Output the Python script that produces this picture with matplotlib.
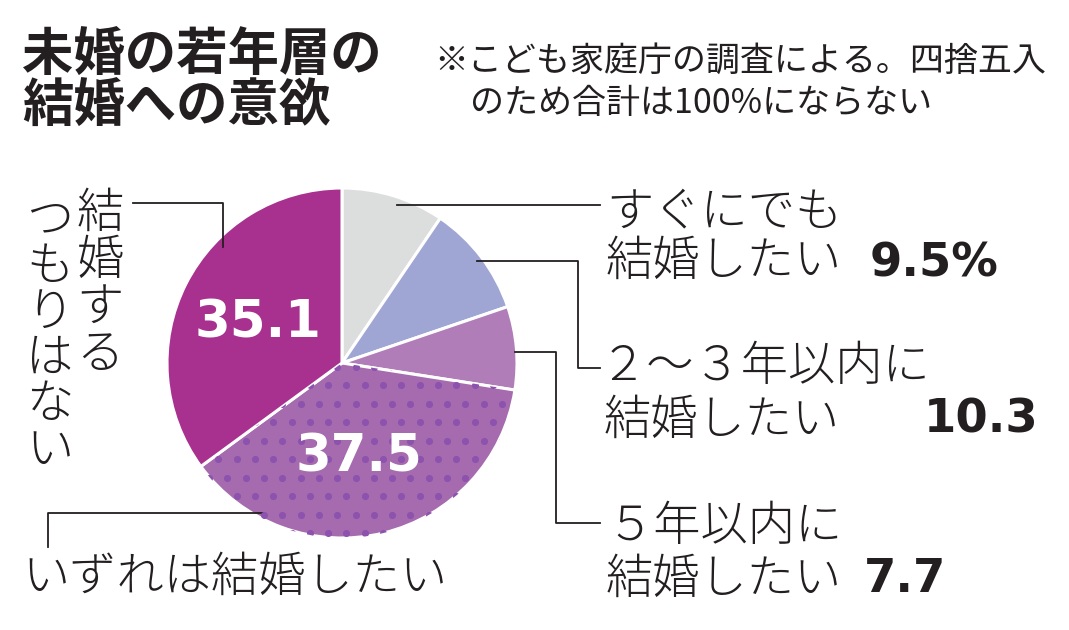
import numpy as np
import matplotlib
matplotlib.use("Agg")
import matplotlib.pyplot as plt

plt.rcParams['font.family'] = ['Noto Sans CJK JP', 'DejaVu Sans']

# survey shares (%), clockwise from 12 o'clock
categories = ['すぐにでも結婚したい', '2～3年以内に結婚したい', '5年以内に結婚したい',
              'いずれは結婚したい', '結婚するつもりはない']
shares = [9.5, 10.3, 7.7, 37.5, 35.1]
value_labels = ['9.5%', '10.3', '7.7', '37.5', '35.1']
colors = ['#dcdedd', '#9fa6d4', '#b07db8', '#a66aae', '#a8308f']

W, H = 1069, 630
fig = plt.figure(figsize=(W / 100, H / 100), dpi=100)
ax = fig.add_axes([0, 0, 1, 1])
ax.set_xlim(0, W)
ax.set_ylim(H, 0)   # pixel-like coords, y down
ax.set_aspect('equal')
ax.axis('off')

cx, cy, r = 342, 363, 175
# y is inverted, so counterclock in data is clockwise on screen
wedges, _ = ax.pie(shares, colors=colors, startangle=-90, counterclock=True,
                   center=(cx, cy), radius=r,
                   wedgeprops=dict(edgecolor='white', linewidth=2.2))
ax.set_xlim(0, W)
ax.set_ylim(H, 0)

# dot texture on the "いずれは" slice
gx, gy = [], []
for i, yy in enumerate(np.arange(459 - 18.5 * 12, cy + r + 20, 18.5)):
    off = 9.15 if i % 2 else 0
    for xx in np.arange(218.3 - 18.3 * 12 + off, cx + r + 20, 18.3):
        gx.append(xx)
        gy.append(yy)
dots = ax.scatter(gx, gy, s=26, color='#8c52ad', linewidths=0, zorder=3)
dots.set_clip_path(wedges[3])

# numbers inside the pie
num_font = dict(family='DejaVu Sans', weight='bold', color='white', fontsize=37)
ax.text(258, 323, value_labels[4], ha='center', va='center', zorder=5, **num_font)
ax.text(359, 458, value_labels[3], ha='center', va='center', zorder=5, **num_font)

ink = '#231f20'
lw = 1.3
# leader lines
ax.plot([397, 600], [205, 205], color=ink, lw=lw)
ax.plot([477, 578, 578, 600], [261, 261, 368, 368], color=ink, lw=lw)
ax.plot([515, 556, 556, 600], [352, 352, 523, 523], color=ink, lw=lw)
ax.plot([133, 223, 223], [203, 203, 247], color=ink, lw=lw)
ax.plot([263, 48, 48], [513, 513, 547], color=ink, lw=lw)

lab = dict(fontsize=34, color=ink, va='center', ha='left', weight='light')
ax.text(606, 212, 'すぐにでも', **lab)
ax.text(606, 261, '結婚したい', **lab)
ax.text(600, 367, '２～３年以内に', **lab)
ax.text(604, 420, '結婚したい', **lab)
ax.text(606, 527, '５年以内に', **lab)
ax.text(606, 579, '結婚したい', **lab)
ax.text(22, 577, 'いずれは結婚したい', **lab)

# vertical label on the left
for i, ch in enumerate('結婚する'):
    ax.text(100, 213 + i * 47, ch, fontsize=34, color=ink, ha='center',
            va='center', weight='light')
for i, ch in enumerate('つもりはない'):
    ax.text(50, 220 + i * 46, ch, fontsize=34, color=ink, ha='center',
            va='center', weight='light')

val = dict(family='DejaVu Sans', weight='bold', fontsize=33.5, color=ink,
           va='center', ha='left')
ax.text(870, 264, value_labels[0], **val)
ax.text(924, 420, value_labels[1], **val)
ax.text(864, 580, value_labels[2], **val)

# title and note
ttl = dict(fontsize=37, weight='bold', color=ink, ha='left', va='center')
ax.text(22, 55, '未婚の若年層の', **ttl)
ax.text(22, 106, '結婚への意欲', **ttl)
note = dict(fontsize=24.5, color=ink, ha='left', va='center')
ax.text(434, 61, '※こども家庭庁の調査による。四捨五入', **note)
ax.text(470, 104, 'のため合計は100%にならない', **note)

fig.savefig('out.png', dpi=100, facecolor='white')
